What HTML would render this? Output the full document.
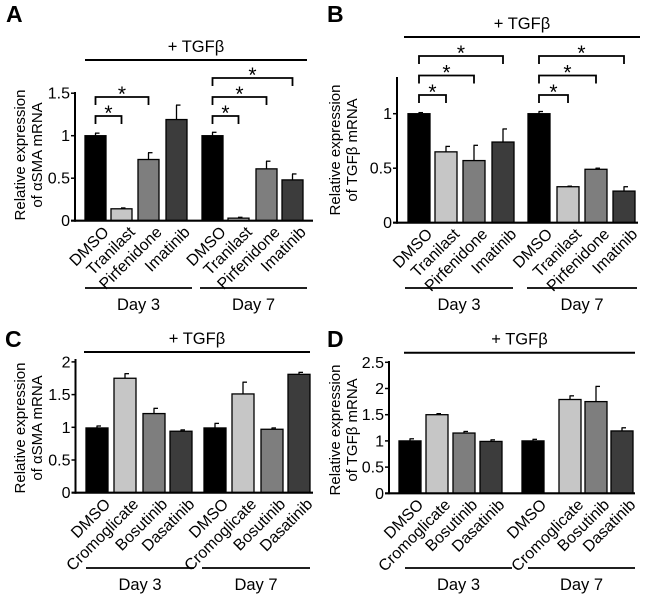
<!DOCTYPE html>
<html><head><meta charset="utf-8"><style>
html,body{margin:0;padding:0;background:#fff;}
svg{display:block;font-family:"Liberation Sans",Arial,sans-serif;}
</style></head><body>
<svg id="fig" width="650" height="599" viewBox="0 0 650 599" xmlns="http://www.w3.org/2000/svg"></svg>
<script>
// ---- data ----
const labelsAB = ["DMSO","Tranilast","Pirfenidone","Imatinib","DMSO","Tranilast","Pirfenidone","Imatinib"];
const labelsCD = ["DMSO","Cromoglicate","Bosutinib","Dasatinib","DMSO","Cromoglicate","Bosutinib","Dasatinib"];
const valuesA = [1.0,0.14,0.72,1.19,1.0,0.03,0.61,0.48];
const errorsA = [0.03,0.01,0.08,0.17,0.04,0.01,0.09,0.07];
const valuesB = [1.0,0.65,0.57,0.74,1.0,0.33,0.49,0.29];
const errorsB = [0.01,0.05,0.14,0.12,0.02,0.005,0.01,0.04];
const valuesC = [0.99,1.75,1.21,0.94,0.99,1.51,0.97,1.81];
const errorsC = [0.03,0.07,0.08,0.02,0.07,0.18,0.02,0.03];
const valuesD = [1.0,1.5,1.15,0.99,1.0,1.79,1.75,1.19];
const errorsD = [0.04,0.02,0.03,0.03,0.03,0.07,0.29,0.06];
const ticksA = [0,0.5,1,1.5];
const tickLabelsA = ["0","0.5","1","1.5"];
const ticksB = [0,0.5,1];
const tickLabelsB = ["0","0.5","1"];
const ticksC = [0,0.5,1,1.5,2];
const tickLabelsC = ["0","0.5","1","1.5","2"];
const ticksD = [0,0.5,1,1.5,2,2.5];
const tickLabelsD = ["0","0.5","1","1.5","2","2.5"];
// brackets: [from, to, level]
const bracketsA = [[0,1,1],[0,2,2],[4,5,1],[4,6,2],[4,7,3]];
const bracketsB = [[0,1,1],[0,2,2],[0,3,3],[4,5,1],[4,6,2],[4,7,3]];
const fills = ["#000000","#c6c6c6","#7e7e7e","#3c3c3c","#000000","#c6c6c6","#7e7e7e","#3c3c3c"];

const NS="http://www.w3.org/2000/svg";
const svg=document.getElementById('fig');
function mk(tag,attrs,parent){const e=document.createElementNS(NS,tag);for(const k in attrs)e.setAttribute(k,attrs[k]);(parent||svg).appendChild(e);return e;}

function panel(p){
  const g=mk('g',{});
  
  
  const y=v=>p.base-v*p.unit;
  const L=mk('text',{x:p.letterX,y:p.letterY,'font-size':23,'font-weight':'bold'},g);L.textContent=p.id;
  
  
  const tl=mk('line',{x1:p.tgf[0],x2:p.tgf[1],y1:p.tgf[2],y2:p.tgf[2],stroke:'#000','stroke-width':2},g);
  
  
  const tt=mk('text',{x:(p.tgf[0]+p.tgf[1])/2,y:p.tgf[2]-8,'font-size':16.5,'text-anchor':'middle'},g);tt.textContent='+ TGFβ';
  
  
  const yt=mk('text',{transform:`translate(${p.ytX},${p.ytY}) rotate(-90)`,'font-size':15,'text-anchor':'middle'},g);
  
  
  const t1=mk('tspan',{x:0,y:0},yt);t1.textContent='Relative expression';
  const t2=mk('tspan',{x:0,y:p.ytGap},yt);t2.textContent=p.ytitle2;
  p.values.forEach((v,i)=>{
    const x=p.barX[i], w=p.barW;
    const top=y(v), et=y(v+p.errors[i]);
    const el=mk('line',{x1:x+w/2,x2:x+w/2,y1:top,y2:et,stroke:'#000','stroke-width':1.3},g);
    
    
    const cap=mk('line',{x1:x+w/2-0.5,x2:x+w/2+4,y1:et,y2:et,stroke:'#000','stroke-width':1.3},g);
    
    
    const r=mk('rect',{x:x,y:top,width:w,height:p.base-top,fill:fills[i],stroke:'#000','stroke-width':1.3},g);
    
    
    const lx=x+w/2+7, ly=p.base+5;
    const t=mk('text',{transform:`translate(${lx},${ly}) rotate(-45)`,'font-size':16,'text-anchor':'end','dominant-baseline':'hanging'},g);
    t.textContent=p.labels[i];
    
    
  });
  const ya=mk('line',{x1:p.axX,x2:p.axX,y1:p.axTop,y2:p.base+1,stroke:'#000','stroke-width':2},g);
  
  
  const xa=mk('line',{x1:p.axX-4,x2:p.axEnd,y1:p.base,y2:p.base,stroke:'#000','stroke-width':2.2},g);
  
  
  p.ticks.forEach((v,i)=>{
    const tk=mk('line',{x1:p.axX-4,x2:p.axX,y1:y(v),y2:y(v),stroke:'#000','stroke-width':1.5},g);
    
    
    const tl2=mk('text',{x:p.axX-5,y:y(v)+5.5,'font-size':16,'text-anchor':'end'},g);tl2.textContent=p.tickLabels[i];
    
    
  });
  (p.brackets||[]).forEach(b=>{
    const x1=p.barX[b[0]]+p.barW/2, x2=p.barX[b[1]]+p.barW/2;
    const top=p.brTop-(b[2]-1)*p.brStep;
    const pl=mk('polyline',{points:`${x1},${top+8} ${x1},${top} ${x2},${top} ${x2},${top+8}`,fill:'none',stroke:'#000','stroke-width':1.8},g);
    
    
    const s=mk('text',{x:(x1+x2)/2,y:top+4,'font-size':21,'text-anchor':'middle'},g);s.textContent='*';
    
    
  });
  p.days.forEach((d,i)=>{
    const dl=mk('line',{x1:d[0],x2:d[1],y1:p.dayY,y2:p.dayY,stroke:'#000','stroke-width':1.8},g);
    
    
    const dt=mk('text',{x:(d[0]+d[1])/2,y:p.dayY+22,'font-size':16.5,'text-anchor':'middle'},g);dt.textContent=i===0?'Day 3':'Day 7';
    
    
  });
}

panel({id:'A',labels:labelsAB,values:valuesA,errors:errorsA,ticks:ticksA,tickLabels:tickLabelsA,brackets:bracketsA,
  base:220.7,unit:85,axX:75,axTop:92,axEnd:313,barW:21,barX:[85,111,138,166,202,228,256,282],
  letterX:6,letterY:22,tgf:[85,307,60],ytX:25,ytY:155,ytGap:17,ytitle2:'of αSMA mRNA',
  brTop:116,brStep:19,days:[[85,192],[200,307]],dayY:288});
panel({id:'B',labels:labelsAB,values:valuesB,errors:errorsB,ticks:ticksB,tickLabels:tickLabelsB,brackets:bracketsB,
  base:222.7,unit:109,axX:397,axTop:77,axEnd:638,barW:22,barX:[408,435,463,492,528,557,585,613],
  letterX:327,letterY:22,tgf:[404,640,37],ytX:340,ytY:150,ytGap:17,ytitle2:'of TGFβ mRNA',
  brTop:95,brStep:19.5,days:[[405,513],[527,637]],dayY:288});
panel({id:'C',labels:labelsCD,values:valuesC,errors:errorsC,ticks:ticksC,tickLabels:tickLabelsC,
  base:492.7,unit:65.4,axX:75.5,axTop:359,axEnd:313,barW:22,barX:[86,114,143,170,204,232,261,288],
  letterX:5,letterY:347,tgf:[84,310,352],ytX:25,ytY:428,ytGap:17,ytitle2:'of αSMA mRNA',
  days:[[86,194],[202,310]],dayY:568});
panel({id:'D',labels:labelsCD,values:valuesD,errors:errorsD,ticks:ticksD,tickLabels:tickLabelsD,
  base:493.3,unit:52.4,axX:389,axTop:361,axEnd:635,barW:22,barX:[399,426,453,480,522,559,585,611],
  letterX:327,letterY:347,tgf:[404,635,352.7],ytX:340,ytY:430,ytGap:17,ytitle2:'of TGFβ mRNA',
  days:[[405,512],[528,635]],dayY:568});
</script>
</body></html>
